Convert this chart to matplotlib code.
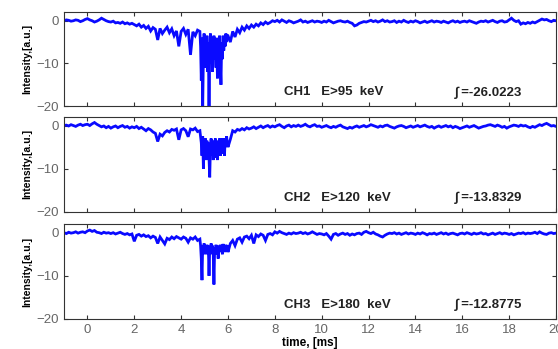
import matplotlib.pyplot as plt
import numpy as np

# sample grids: 0.1 ms outside the burst, 0.03 ms inside it
t_lo = np.round(np.arange(-1.0, 4.75, 0.1), 2)
t_burst = np.round(4.8 + 0.03 * np.arange(40), 2)
t_hi = np.round(np.arange(6.0, 20.05, 0.1), 2)

ch1_lo = [
    0.0, 0.2, 0.1, -0.1, 0.0, 0.2, 0.1, -0.2, 0.0, 0.3,
    0.5, 0.2, 0.0, -0.3, -0.1, 0.2, 0.6, 0.3, 0.0, -0.2,
    -0.3, -0.1, -0.5, -0.4, -0.6, -0.3, -0.7, -0.5, -0.8, -0.6,
    -0.9, -1.2, -0.8, -1.5, -1.1, -1.8, -1.3, -2.4, -1.6, -2.0,
    -4.5, -1.8, -3.0, -2.2, -1.5, -2.8, -1.9, -3.5, -2.4, -6.0,
    -2.5, -1.8, -3.2, -2.0, -8.0, -2.6, -3.5, -2.2,
]
ch1_burst = [
    -2.5, -6.0, -14.0, -4.0, -20.5, -8.0, -3.0, -11.0, -4.0, -9.0,
    -3.5, -12.0, -5.0, -20.5, -7.0, -3.0, -10.0, -4.0, -12.0, -6.0,
    -3.5, -9.0, -4.0, -11.0, -5.0, -13.5, -4.0, -8.0, -3.5, -10.0,
    -15.0, -5.0, -9.0, -3.5, -7.0, -4.0, -6.0, -3.0, -5.0, -3.5,
]
ch1_hi = [
    -3.5, -5.0, -2.5, -3.8, -2.0, -2.8, -1.5, -2.2, -1.2, -1.8,
    -1.0, -1.5, -0.8, -1.2, -0.5, -0.9, -0.3, -0.7, -0.4, 0.0,
    -0.2, 0.1, -0.3, 0.2, -0.1, -0.4, 0.0, -0.2, -0.5, -0.3,
    -0.1, 0.2, -0.3, -0.1, -0.4, -0.2, 0.0, -0.3, -0.1, -0.2,
    -0.4, -0.1, -0.3, 0.1, -0.2, -0.5, -0.3, -0.1, 0.0, -0.2,
    -0.3, -0.1, -0.4, -0.6, -1.2, -1.0, -0.6, -0.4, -0.2, -0.3,
    -0.1, 0.1, -0.2, 0.0, -0.3, -0.1, 0.2, -0.2, 0.0, -0.3,
    -0.2, 0.0, -0.4, -0.1, -0.3, 0.1, -0.2, -0.4, -0.1, -0.3,
    0.0, -0.2, -0.5, -0.3, -0.1, -0.4, -0.2, 0.0, -0.3, -0.1,
    -0.2, -0.4, -0.1, -0.3, -0.5, -0.2, 0.0, -0.3, -0.1, -0.4,
    -0.2, -0.1, -0.3, 0.0, -0.2, -0.4, -0.6, -0.3, -0.1, -0.2,
    0.0, -0.3, -0.1, 0.1, -0.2, -0.4, -0.1, 0.0, -0.3, -0.2,
    0.2, 0.6, 0.1, -0.2, 0.0, -0.8, -0.5, -0.7, -0.4, -0.6,
    -0.3, -0.5, -0.2, 0.1, 0.4, 0.2, 0.3, 0.0, -0.2, 0.1,
    0.0,
]

ch2_lo = [
    0.0, 0.1, -0.1, 0.2, 0.0, -0.2, 0.1, 0.3, 0.0, 0.2,
    0.3, 0.0, 0.4, 0.7, 0.3, 0.0, -0.3, -0.1, -0.5, -0.2,
    -0.6, -0.3, -0.1, -0.5, -0.2, 0.0, -0.4, -0.2, -0.6, -0.3,
    -0.5, -0.2, -0.7, -0.4, -0.8, -1.2, -0.7, -1.0, -1.5, -1.8,
    -3.7, -2.0, -2.4, -1.6, -1.2, -1.5, -0.9, -1.1, -0.8, -3.3,
    -1.0, -0.7, -1.2, -2.6, -0.8, -1.0, -0.6, -1.4,
]
ch2_burst = [
    -1.2, -2.5, -4.0, -7.0, -2.5, -10.0, -4.0, -6.5, -3.0, -8.0,
    -3.5, -6.0, -4.0, -7.5, -12.0, -5.0, -3.0, -7.0, -4.0, -8.0,
    -3.5, -6.5, -3.0, -7.5, -4.5, -8.0, -3.5, -6.0, -3.0, -7.0,
    -4.0, -6.5, -3.0, -5.5, -3.5, -7.0, -3.0, -5.0, -2.5, -4.0,
]
ch2_hi = [
    -5.0, -3.2, -1.2, -1.5, -0.9, -1.1, -0.7, -1.0, -0.5, -0.8,
    -0.6, -0.3, -0.7, -0.4, -0.1, -0.5, -0.2, 0.0, -0.4, -0.1,
    -0.3, 0.0, 0.2, -0.2, -0.5, -0.1, 0.1, -0.3, 0.0, -0.2,
    0.1, -0.2, 0.0, 0.3, -0.1, -0.3, 0.0, 0.2, -0.2, -0.1,
    -0.4, -0.2, 0.0, -0.3, -0.5, -0.2, -0.4, -0.1, 0.1, -0.3,
    -0.5, -0.7, -0.4, -0.6, -0.3, -0.1, -0.4, -0.2, 0.0, -0.3,
    -0.1, 0.2, 0.0, -0.2, -0.4, -0.1, -0.3, 0.0, 0.1, -0.2,
    -0.4, -0.6, -0.3, -0.1, 0.0, -0.2, -0.5, -0.3, -0.1, -0.4,
    -0.2, 0.0, -0.3, -0.1, 0.1, -0.2, -0.4, -0.2, -0.6, -0.3,
    -0.1, -0.4, -0.2, 0.0, -0.3, -0.1, -0.5, -0.2, -0.4, -0.7,
    -0.5, -0.3, -0.1, -0.4, -0.2, 0.0, -0.3, -0.6, -0.4, -0.2,
    -0.1, 0.1, 0.2, 0.0, -0.2, 0.1, -0.1, -0.4, -0.2, -0.6,
    -0.3, -0.1, 0.1, 0.0, -0.2, 0.1, -0.1, 0.0, -0.3, -0.5,
    -0.2, -0.4, -0.1, 0.2, 0.0, 0.3, 0.5, 0.2, -0.1, 0.0,
    -0.2,
]

ch3_lo = [
    0.0, -0.2, 0.1, -0.1, 0.0, 0.2, -0.1, 0.1, 0.2, 0.0,
    0.4, 0.6, 0.3, 0.5, 0.1, 0.0, -0.2, 0.1, -0.1, 0.0,
    -0.2, 0.0, -0.3, -0.1, 0.1, -0.2, -0.4, -0.2, -0.5, -0.3,
    -2.0, -0.6, -0.4, -0.8, -0.5, -0.9, -0.7, -1.2, -0.8, -1.1,
    -2.5, -1.0, -1.8, -2.6, -1.3, -1.6, -1.0, -1.4, -0.9, -1.2,
    -1.5, -1.0, -1.3, -2.2, -1.2, -1.5, -1.0, -1.8,
]
ch3_burst = [
    -1.5, -3.0, -6.0, -11.0, -3.0, -5.0, -2.5, -4.5, -3.0, -5.0,
    -2.8, -4.0, -3.0, -10.0, -3.5, -5.0, -2.5, -4.5, -3.0, -5.0,
    -12.0, -3.5, -4.5, -2.8, -5.0, -3.0, -6.0, -3.5, -4.5, -2.8,
    -4.0, -3.0, -5.0, -2.6, -4.0, -3.2, -4.5, -2.8, -3.5, -3.0,
]
ch3_hi = [
    -4.5, -2.5, -1.8, -3.0, -1.5, -1.2, -2.2, -1.0, -0.8, -1.4,
    -0.6, -2.5, -0.5, -0.9, -0.3, -0.6, -1.8, -0.4, -0.2, -0.5,
    0.2, -0.1, 0.3, 0.0, -0.2, -0.4, -0.1, -0.3, 0.0, -0.2,
    -0.1, 0.1, -0.2, 0.0, -0.3, -0.1, 0.2, -0.1, -0.4, -0.2,
    -0.3, -0.5, -0.2, -0.8, -1.5, -0.4, -0.2, -0.6, -0.3, -0.1,
    -0.4, -0.2, -0.6, -0.3, -0.5, -0.2, -0.1, -0.4, 0.1, 0.3,
    0.0, -0.2, 0.1, -0.3, -0.5, -0.8, -1.0, -0.6, -0.3, -0.1,
    -0.2, 0.0, -0.3, -0.1, -0.4, -0.2, 0.0, -0.3, -0.1, -0.2,
    -0.4, -0.1, -0.3, 0.0, -0.2, -0.5, -0.2, -0.3, -0.1, -0.4,
    -0.2, 0.0, -0.3, -0.1, -0.4, -0.2, -0.1, -0.3, -0.5, -0.2,
    -0.1, -0.3, 0.0, -0.2, -0.4, -0.1, -0.3, -0.2, 0.0, -0.3,
    -0.2, -0.5, -0.3, -0.1, -0.4, -0.2, 0.0, -0.3, -0.1, -0.2,
    -0.4, -0.2, -0.5, -0.3, -0.1, -0.2, 0.0, -0.3, -0.1, -0.2,
    -0.1, 0.1, -0.2, 0.2, -0.1, -0.3, -0.4, -0.1, 0.0, -0.2,
    -0.1,
]

channels = ["CH1", "CH2", "CH3"]
energies = ["E>95  keV", "E>120  keV", "E>180  keV"]
integrals = ["-26.0223", "-13.8329", "-12.8775"]
signals = [
    ch1_lo + ch1_burst + ch1_hi,
    ch2_lo + ch2_burst + ch2_hi,
    ch3_lo + ch3_burst + ch3_hi,
]
t = np.concatenate([t_lo, t_burst, t_hi])

xticks = [0, 2, 4, 6, 8, 10, 12, 14, 16, 18, 20]
yticks = [0, -10, -20]

plt.rcParams['font.family'] = ['Liberation Sans', 'DejaVu Sans']

fig = plt.figure(figsize=(5.58, 3.49), dpi=100)

# axes boxes in figure fraction (left, bottom, width, height)
boxes = [
    (0.1147, 0.696, 0.8817, 0.269),
    (0.1147, 0.393, 0.8817, 0.272),
    (0.1147, 0.086, 0.8817, 0.272),
]

for i, box in enumerate(boxes):
    ax = fig.add_axes(box)
    ax.plot(t, signals[i], color="#0a0aff", lw=2.0, solid_joinstyle="miter")
    ax.set_xlim(-1, 20)
    ax.set_ylim(-20, 2)
    ax.set_xticks(xticks)
    ax.set_yticks(yticks)
    ax.tick_params(direction="in", top=True, right=True, length=3,
                   labelsize=9.5, labelcolor="#666666", color="#333333")
    for s in ax.spines.values():
        s.set_color("#333333")
    if i < 2:
        ax.set_xticklabels([])
    ax.set_ylabel("Intensity,[a.u.]", fontsize=7.5, fontweight="bold",
                  labelpad=3)
    ax.text(8.4, -16.8, channels[i] + "   " + energies[i], fontsize=9.5,
            fontweight="bold", va="center", color="#222222")
    ax.text(15.7, -16.8, "\u222b =" + integrals[i], fontsize=9.5,
            fontweight="bold", va="center", color="#222222")

ax.set_xlabel("time, [ms]", fontsize=8.5, fontweight="bold", labelpad=1)

fig.savefig("out.png", dpi=100)
